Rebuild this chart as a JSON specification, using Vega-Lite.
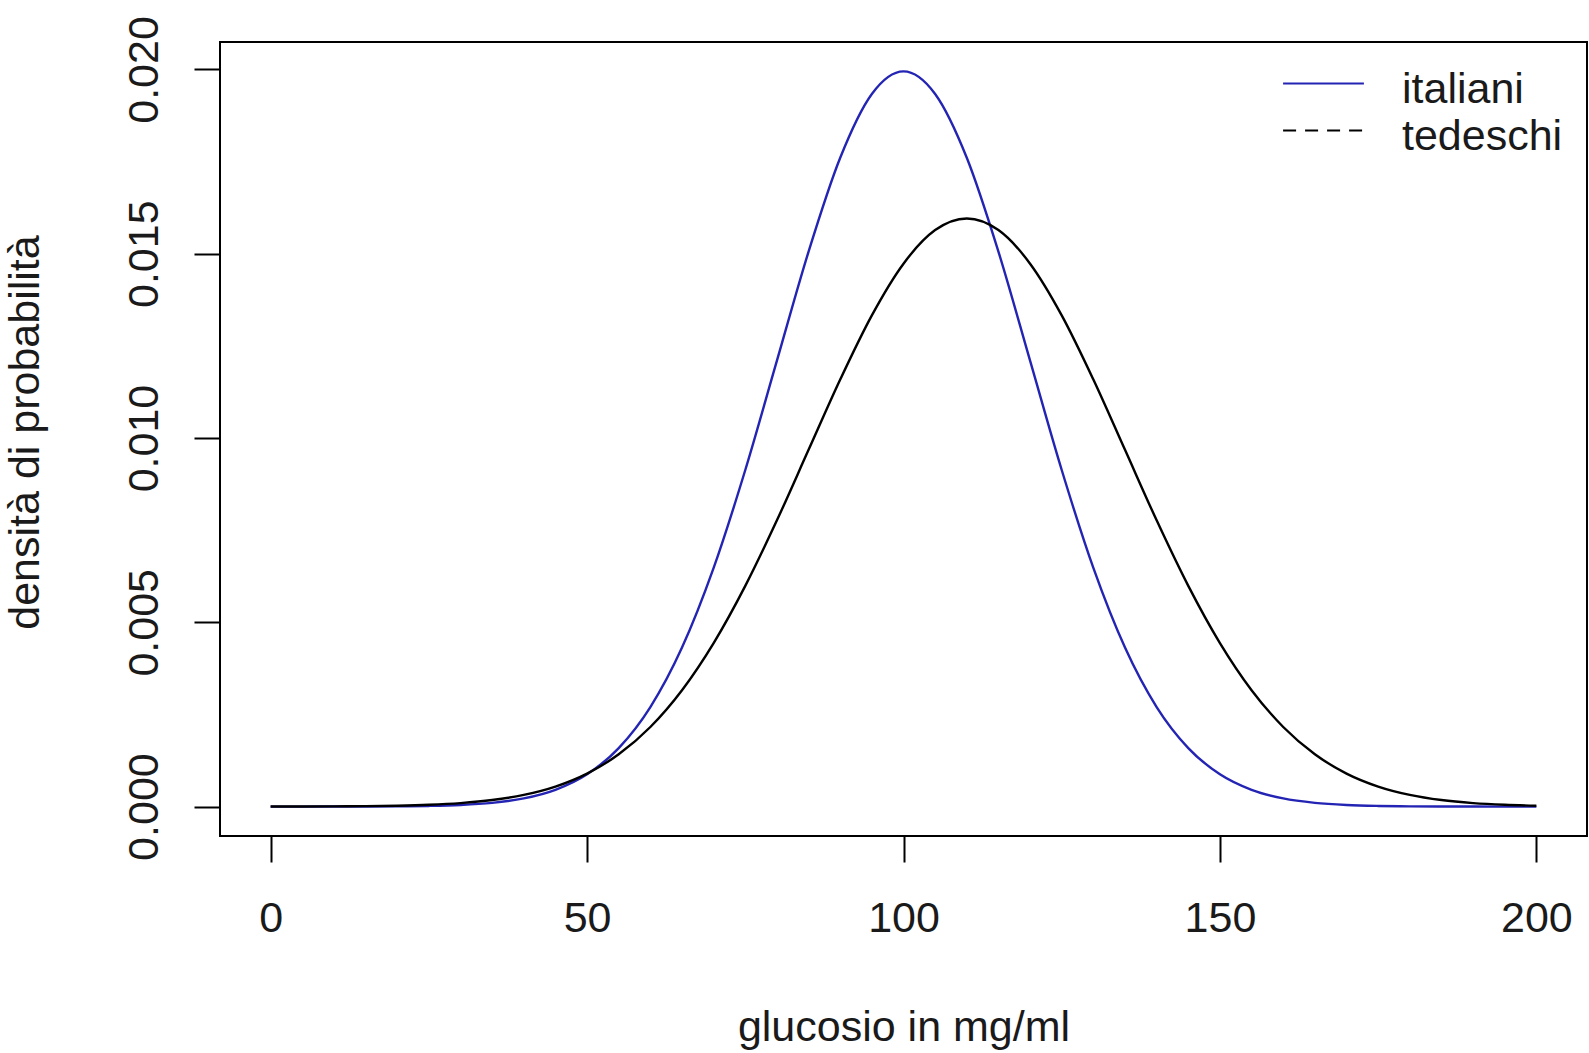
{
  "$schema": "https://vega.github.io/schema/vega-lite/v6.json",
  "autosize": {"type": "none"},
  "width": 1367,
  "height": 794,
  "padding": {"left": 220, "top": 42, "right": 2, "bottom": 217},
  "background": "white",
  "config": {
    "view": {"stroke": "black", "strokeWidth": 2},
    "font": "Liberation Sans",
    "axis": {
      "grid": false,
      "domain": false,
      "tickColor": "black",
      "tickWidth": 2,
      "tickSize": 26,
      "labelFont": "Liberation Sans",
      "labelFontSize": 43,
      "labelColor": "#1a1a1a",
      "titleFont": "Liberation Sans",
      "titleFontSize": 43,
      "titleFontWeight": "normal",
      "titleColor": "#1a1a1a"
    }
  },
  "data": {
    "values": [
      {"x": 0, "d": 0.0000001, "gruppo": "italiani"},
      {"x": 5, "d": 0.00000025, "gruppo": "italiani"},
      {"x": 10, "d": 0.0000008, "gruppo": "italiani"},
      {"x": 15, "d": 0.0000024, "gruppo": "italiani"},
      {"x": 20, "d": 0.0000067, "gruppo": "italiani"},
      {"x": 25, "d": 0.0000176, "gruppo": "italiani"},
      {"x": 30, "d": 0.0000436, "gruppo": "italiani"},
      {"x": 35, "d": 0.0001015, "gruppo": "italiani"},
      {"x": 40, "d": 0.0002216, "gruppo": "italiani"},
      {"x": 45, "d": 0.0004547, "gruppo": "italiani"},
      {"x": 50, "d": 0.0008764, "gruppo": "italiani"},
      {"x": 55, "d": 0.001587, "gruppo": "italiani"},
      {"x": 60, "d": 0.0026995, "gruppo": "italiani"},
      {"x": 65, "d": 0.0043139, "gruppo": "italiani"},
      {"x": 70, "d": 0.0064759, "gruppo": "italiani"},
      {"x": 75, "d": 0.0091325, "gruppo": "italiani"},
      {"x": 80, "d": 0.0120985, "gruppo": "italiani"},
      {"x": 85, "d": 0.0150569, "gruppo": "italiani"},
      {"x": 90, "d": 0.0176033, "gruppo": "italiani"},
      {"x": 95, "d": 0.0193334, "gruppo": "italiani"},
      {"x": 100, "d": 0.0199471, "gruppo": "italiani"},
      {"x": 105, "d": 0.0193334, "gruppo": "italiani"},
      {"x": 110, "d": 0.0176033, "gruppo": "italiani"},
      {"x": 115, "d": 0.0150569, "gruppo": "italiani"},
      {"x": 120, "d": 0.0120985, "gruppo": "italiani"},
      {"x": 125, "d": 0.0091325, "gruppo": "italiani"},
      {"x": 130, "d": 0.0064759, "gruppo": "italiani"},
      {"x": 135, "d": 0.0043139, "gruppo": "italiani"},
      {"x": 140, "d": 0.0026995, "gruppo": "italiani"},
      {"x": 145, "d": 0.001587, "gruppo": "italiani"},
      {"x": 150, "d": 0.0008764, "gruppo": "italiani"},
      {"x": 155, "d": 0.0004547, "gruppo": "italiani"},
      {"x": 160, "d": 0.0002216, "gruppo": "italiani"},
      {"x": 165, "d": 0.0001015, "gruppo": "italiani"},
      {"x": 170, "d": 0.0000436, "gruppo": "italiani"},
      {"x": 175, "d": 0.0000176, "gruppo": "italiani"},
      {"x": 180, "d": 0.0000067, "gruppo": "italiani"},
      {"x": 185, "d": 0.0000024, "gruppo": "italiani"},
      {"x": 190, "d": 0.0000008, "gruppo": "italiani"},
      {"x": 195, "d": 0.00000025, "gruppo": "italiani"},
      {"x": 200, "d": 0.0000001, "gruppo": "italiani"},
      {"x": 0, "d": 0.000001, "gruppo": "tedeschi"},
      {"x": 5, "d": 0.0000024, "gruppo": "tedeschi"},
      {"x": 10, "d": 0.0000054, "gruppo": "tedeschi"},
      {"x": 15, "d": 0.0000117, "gruppo": "tedeschi"},
      {"x": 20, "d": 0.0000245, "gruppo": "tedeschi"},
      {"x": 25, "d": 0.0000493, "gruppo": "tedeschi"},
      {"x": 30, "d": 0.0000954, "gruppo": "tedeschi"},
      {"x": 35, "d": 0.0001773, "gruppo": "tedeschi"},
      {"x": 40, "d": 0.0003166, "gruppo": "tedeschi"},
      {"x": 45, "d": 0.0005433, "gruppo": "tedeschi"},
      {"x": 50, "d": 0.0008958, "gruppo": "tedeschi"},
      {"x": 55, "d": 0.001419, "gruppo": "tedeschi"},
      {"x": 60, "d": 0.0021597, "gruppo": "tedeschi"},
      {"x": 65, "d": 0.003158, "gruppo": "tedeschi"},
      {"x": 70, "d": 0.0044368, "gruppo": "tedeschi"},
      {"x": 75, "d": 0.0059891, "gruppo": "tedeschi"},
      {"x": 80, "d": 0.0077674, "gruppo": "tedeschi"},
      {"x": 85, "d": 0.0096788, "gruppo": "tedeschi"},
      {"x": 90, "d": 0.0115877, "gruppo": "tedeschi"},
      {"x": 95, "d": 0.013329, "gruppo": "tedeschi"},
      {"x": 100, "d": 0.0147308, "gruppo": "tedeschi"},
      {"x": 105, "d": 0.0156417, "gruppo": "tedeschi"},
      {"x": 110, "d": 0.0159577, "gruppo": "tedeschi"},
      {"x": 115, "d": 0.0156417, "gruppo": "tedeschi"},
      {"x": 120, "d": 0.0147308, "gruppo": "tedeschi"},
      {"x": 125, "d": 0.013329, "gruppo": "tedeschi"},
      {"x": 130, "d": 0.0115877, "gruppo": "tedeschi"},
      {"x": 135, "d": 0.0096788, "gruppo": "tedeschi"},
      {"x": 140, "d": 0.0077674, "gruppo": "tedeschi"},
      {"x": 145, "d": 0.0059891, "gruppo": "tedeschi"},
      {"x": 150, "d": 0.0044368, "gruppo": "tedeschi"},
      {"x": 155, "d": 0.003158, "gruppo": "tedeschi"},
      {"x": 160, "d": 0.0021597, "gruppo": "tedeschi"},
      {"x": 165, "d": 0.001419, "gruppo": "tedeschi"},
      {"x": 170, "d": 0.0008958, "gruppo": "tedeschi"},
      {"x": 175, "d": 0.0005433, "gruppo": "tedeschi"},
      {"x": 180, "d": 0.0003166, "gruppo": "tedeschi"},
      {"x": 185, "d": 0.0001773, "gruppo": "tedeschi"},
      {"x": 190, "d": 0.0000954, "gruppo": "tedeschi"},
      {"x": 195, "d": 0.0000493, "gruppo": "tedeschi"},
      {"x": 200, "d": 0.0000245, "gruppo": "tedeschi"}
    ]
  },
  "mark": {"type": "line", "strokeWidth": 2.4, "interpolate": "monotone", "clip": true},
  "encoding": {
    "x": {
      "field": "x",
      "type": "quantitative",
      "scale": {"domain": [-8, 208], "nice": false, "zero": false},
      "axis": {
        "values": [0, 50, 100, 150, 200],
        "format": "d",
        "labelPadding": 35,
        "labelBaseline": "top",
        "title": "glucosio in mg/ml",
        "titleBaseline": "alphabetic",
        "titleY": 204
      }
    },
    "y": {
      "field": "d",
      "type": "quantitative",
      "scale": {"domain": [-0.000798, 0.020745], "nice": false, "zero": false},
      "axis": {
        "values": [0, 0.005, 0.01, 0.015, 0.02],
        "format": ".3f",
        "labelAngle": 270,
        "labelAlign": "center",
        "labelBaseline": "alphabetic",
        "labelPadding": 37,
        "title": "densità di probabilità",
        "titleAngle": 270,
        "titleBaseline": "alphabetic",
        "titleX": -182,
        "titleY": 390
      }
    },
    "color": {
      "field": "gruppo",
      "type": "nominal",
      "scale": {"domain": ["italiani", "tedeschi"], "range": ["#2424b4", "#000000"]},
      "legend": {
        "title": null,
        "orient": "none",
        "legendX": 1081,
        "legendY": 25,
        "padding": 0,
        "symbolType": "M-1.88,0H1.88",
        "symbolSize": 1849,
        "symbolStrokeWidth": 2,
        "labelOffset": 56,
        "labelLimit": 0,
        "labelFont": "Liberation Sans",
        "labelFontSize": 43,
        "labelColor": "#1a1a1a",
        "rowPadding": 2,
        "encode": {
          "symbols": {
            "update": {
              "y": {"value": 16.5},
              "fill": {"value": "transparent"},
              "strokeDash": {"signal": "datum.value == 'tedeschi' ? [13, 9] : [1, 0]"}
            }
          }
        }
      }
    },
    "order": {"field": "gruppo"}
  }
}
